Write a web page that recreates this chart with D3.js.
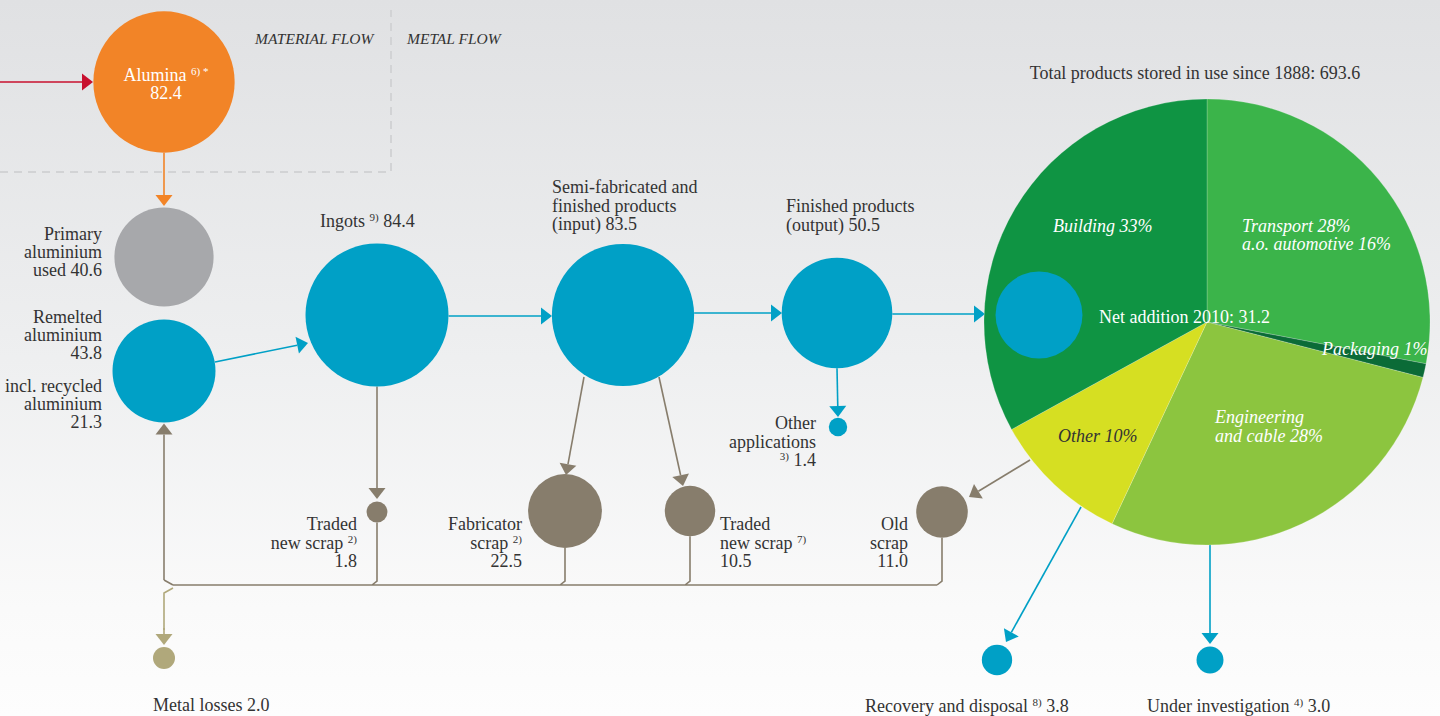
<!DOCTYPE html>
<html>
<head>
<meta charset="utf-8">
<title>Aluminium flow</title>
<script src="https://d3js.org/d3.v7.min.js"></script>
<style>
  html, body { margin: 0; padding: 0; overflow: hidden; }
  svg { display: block; }
  .lbl { fill: #333; font-size: 18px; font-family: "Liberation Serif", "DejaVu Serif", serif; }
  .sup { font-size: 11px; }
</style>
</head>
<body>
<svg id="chart" width="1440" height="716"></svg>
<script>
// --- data ---
const nodeIds    = ["alumina", "primary", "remelted", "ingots", "semi", "finished", "otherApps",
                    "tradedA", "fabricator", "tradedB", "oldScrap", "netAddition", "recovery",
                    "investigation", "losses"];
const nodeValues = [82.4, 40.6, 43.8, 84.4, 83.5, 50.5, 1.4, 1.8, 22.5, 10.5, 11.0, 31.2, 3.8, 3.0, 2.0];
const nodeKinds  = ["alumina", "primary", "metal", "metal", "metal", "metal", "metal",
                    "scrap", "scrap", "scrap", "scrap", "metal", "metal", "metal", "loss"];

const sectorNames  = ["Transport", "Packaging", "Engineering", "Other", "Building"];
const sectorShares = [28, 1, 28, 10, 33];
const stockTotal = 693.6;
const recycledValue = 21.3;
const automotiveShare = 16;

// --- layout (positions only) ---
const pos = {
  alumina: [164, 82], primary: [164, 257], remelted: [164, 371], ingots: [377, 315],
  semi: [623, 315], finished: [837, 313], otherApps: [838, 427], tradedA: [377, 512],
  fabricator: [565, 511], tradedB: [690, 511], oldScrap: [942, 512], netAddition: [1039, 315],
  recovery: [997, 660], investigation: [1210, 660], losses: [164, 658]
};
const pieC = [1207, 322], pieR = 223;

const colors = {
  alumina: "#f28427", primary: "#a7a8ab", metal: "#00a0c6", scrap: "#877d6c", loss: "#b0a87b",
  red: "#c8102e"
};
const sectorColors = ["#3bb44a", "#0b6b37", "#8cc53f", "#d6df22", "#0f9443"];

const svg = d3.select("#chart");

// background gradient
const defs = svg.append("defs");
const grad = defs.append("linearGradient").attr("id", "bg")
  .attr("x1", 0).attr("y1", 0).attr("x2", 0).attr("y2", 1);
grad.append("stop").attr("offset", "0%").attr("stop-color", "#e0e1e3");
grad.append("stop").attr("offset", "50%").attr("stop-color", "#eeeff0");
grad.append("stop").attr("offset", "85%").attr("stop-color", "#fafafa");
grad.append("stop").attr("offset", "100%").attr("stop-color", "#fdfdfd");
svg.append("rect").attr("width", 1440).attr("height", 716).attr("fill", "url(#bg)");

// dashed frame
svg.append("path")
  .attr("d", "M0,172 H391 V10")
  .attr("fill", "none").attr("stroke", "#d2d3d5").attr("stroke-width", 2)
  .attr("stroke-dasharray", "8,6");

svg.append("text").attr("class", "lbl").attr("x", 255).attr("y", 44)
  .attr("font-style", "italic").style("font-size", "15.5px").text("MATERIAL FLOW");
svg.append("text").attr("class", "lbl").attr("x", 407).attr("y", 44)
  .attr("font-style", "italic").style("font-size", "15.5px").text("METAL FLOW");

const r = d3.scaleSqrt().domain([0, d3.max(nodeValues)]).range([0, 71.5]);
const nodes = nodeIds.map((id, i) => ({ id, value: nodeValues[i], kind: nodeKinds[i], x: pos[id][0], y: pos[id][1], r: r(nodeValues[i]) }));
const N = Object.fromEntries(nodes.map(d => [d.id, d]));

const lines = svg.append("g");

function arrow(x1, y1, x2, y2, col) {
  const a = Math.atan2(y2 - y1, x2 - x1), L = 11, W = 8.5;
  const bx = x2 - L * Math.cos(a), by = y2 - L * Math.sin(a);
  lines.append("line").attr("x1", x1).attr("y1", y1).attr("x2", bx).attr("y2", by)
    .attr("stroke", col).attr("stroke-width", 1.6);
  lines.append("path").attr("fill", col)
    .attr("d", `M${x2},${y2} L${bx - W * Math.sin(a)},${by + W * Math.cos(a)} L${bx + W * Math.sin(a)},${by - W * Math.cos(a)} Z`);
}

// --- pie of stock in use ---
const pie = d3.pie().sort(null).value(d => d)(sectorShares);
const arc = d3.arc().innerRadius(0).outerRadius(pieR);
svg.append("g").attr("transform", `translate(${pieC})`)
  .selectAll("path").data(pie).join("path")
  .attr("d", arc).attr("fill", (d, i) => sectorColors[i])
  .attr("stroke", "rgba(255,255,255,0.25)").attr("stroke-width", 0.8);

// --- flows ---
const blue = colors.metal, brown = colors.scrap;
arrow(0, 82, 93, 82, colors.red);
arrow(N.alumina.x, N.alumina.y + N.alumina.r, 164, 206, colors.alumina);
arrow(215, 362, 308, 343, blue);
arrow(N.ingots.x + N.ingots.r, 316, 552, 316, blue);
arrow(N.semi.x + N.semi.r, 313, 782, 313, blue);
arrow(N.finished.x + N.finished.r, 314, 985, 314, blue);
arrow(N.finished.x, N.finished.y + N.finished.r, 838, 417, blue);
arrow(N.ingots.x, N.ingots.y + N.ingots.r, 377, 499, brown);
arrow(584, 377, 566, 475, brown);
arrow(659, 377, 683, 486, brown);
arrow(1030, 460, 969, 497, brown);
arrow(1081, 507, 1006, 642, blue);
arrow(1210, 540, 1210, 644, blue);
arrow(164, 580, 164, N.remelted.y + N.remelted.r + 1, brown);

// scrap collector
let coll = "M173,585 H937";
["tradedA", "fabricator", "tradedB", "oldScrap"].forEach(id => {
  const d = N[id];
  coll += ` M${d.x},${d.y + d.r} V581 L${d.x - 5},585`;
});
coll += " M164,580 L173,585";
lines.append("path").attr("d", coll).attr("fill", "none").attr("stroke", brown).attr("stroke-width", 1.6);
lines.append("path").attr("d", "M173,588 L164,593 V630").attr("fill", "none").attr("stroke", colors.loss).attr("stroke-width", 1.6);
arrow(164, 628, 164, 645, colors.loss);

// --- nodes ---
svg.append("g").selectAll("circle").data(nodes).join("circle")
  .attr("cx", d => d.x).attr("cy", d => d.y).attr("r", d => d.r)
  .attr("fill", d => colors[d.kind]);

// --- labels ---
const fmt = d3.format(".1f");
// rows: string, or array of parts where {sup: "..."} is a superscript
function label(x, y, anchor, rows, opts = {}) {
  const t = svg.append("text").attr("class", "lbl").attr("x", x).attr("y", y)
    .attr("text-anchor", anchor);
  if (opts.fill) t.style("fill", opts.fill);
  if (opts.italic) t.attr("font-style", "italic");
  rows.forEach((row, i) => {
    const parts = Array.isArray(row) ? row : [row];
    const line = t.append("tspan").attr("x", x).attr("y", y + i * (opts.lh || 18.5));
    parts.forEach(p => {
      if (typeof p === "object") {
        line.append("tspan").attr("class", "sup").attr("baseline-shift", "6").text(p.sup);
      } else {
        line.append("tspan").text(p);
      }
    });
  });
  return t;
}
const v = id => fmt(N[id].value);

label(166, 81, "middle", [["Alumina ", { sup: "6) *" }], v("alumina")], { fill: "#fff", lh: 18 });
label(102, 240, "end", ["Primary", "aluminium", "used " + v("primary")], { lh: 18 });
label(102, 323, "end", ["Remelted", "aluminium", v("remelted")], { lh: 18 });
label(102, 392, "end", ["incl. recycled", "aluminium", fmt(recycledValue)], { lh: 18 });
label(320, 227, "start", [["Ingots ", { sup: "9)" }, " " + v("ingots")]]);
label(552, 193, "start", ["Semi-fabricated and", "finished products", "(input) " + v("semi")]);
label(786, 212, "start", ["Finished products", "(output) " + v("finished")]);
label(816, 429, "end", ["Other", "applications", [{ sup: "3)" }, " " + v("otherApps")]]);
label(357, 530, "end", ["Traded", ["new scrap ", { sup: "2)" }], v("tradedA")]);
label(522, 530, "end", ["Fabricator", ["scrap ", { sup: "2)" }], v("fabricator")]);
label(720, 530, "start", ["Traded", ["new scrap ", { sup: "7)" }], v("tradedB")]);
label(908, 530, "end", ["Old", "scrap", v("oldScrap")]);
label(153, 711, "start", ["Metal losses " + v("losses")]);
label(865, 712, "start", [["Recovery and disposal ", { sup: "8)" }, " " + v("recovery")]]);
label(1147, 712, "start", [["Under investigation ", { sup: "4)" }, " " + v("investigation")]]);
label(1195, 79, "middle", ["Total products stored in use since 1888: " + fmt(stockTotal)]);
label(1099, 323, "start", ["Net addition 2010: " + v("netAddition")], { fill: "#fff" });

// sector labels
const pct = i => sectorNames[i] + " " + sectorShares[i] + "%";
label(1053, 232, "start", [pct(4)], { fill: "#fff", italic: true });
label(1242, 232, "start", [pct(0), "a.o. automotive " + automotiveShare + "%"], { fill: "#fff", italic: true, lh: 18 });
label(1322, 355, "start", [pct(1)], { fill: "#fff", italic: true });
label(1215, 423, "start", ["Engineering", "and cable " + sectorShares[2] + "%"], { fill: "#fff", italic: true, lh: 19 });
label(1058, 442, "start", [pct(3)], { fill: "#333", italic: true });
</script>
</body>
</html>
